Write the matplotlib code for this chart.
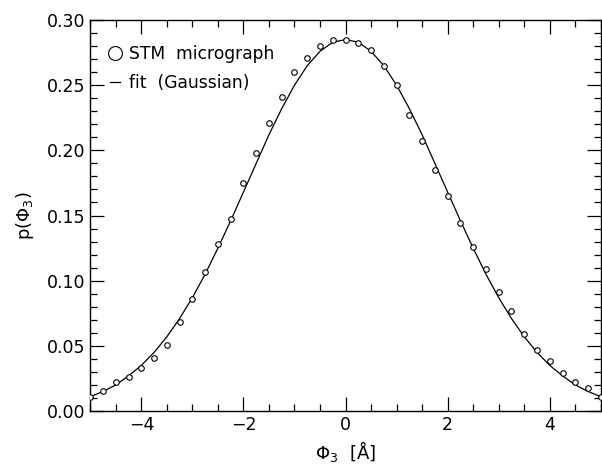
"""
Distribución p(phi_3): datos STM y ajuste gaussiano
"""

import numpy as np
import matplotlib
matplotlib.use('Agg')
import matplotlib.pyplot as plt
from matplotlib.ticker import MultipleLocator

# ─────────────────────────────────────────────
# DATOS
# ─────────────────────────────────────────────
phi_stm = [-5.0, -4.75, -4.5, -4.25, -4.0, -3.75, -3.5, -3.25, -3.0, -2.75,
           -2.5, -2.25, -2.0, -1.75, -1.5, -1.25, -1.0, -0.75, -0.5, -0.25,
           0.0, 0.25, 0.5, 0.75, 1.0, 1.25, 1.5, 1.75, 2.0, 2.25,
           2.5, 2.75, 3.0, 3.25, 3.5, 3.75, 4.0, 4.25, 4.5, 4.75, 5.0]
p_stm = [0.011, 0.015, 0.022, 0.026, 0.033, 0.041, 0.051, 0.068, 0.086, 0.107,
         0.128, 0.147, 0.175, 0.198, 0.221, 0.241, 0.260, 0.271, 0.280, 0.285,
         0.285, 0.282, 0.277, 0.265, 0.250, 0.227, 0.207, 0.185, 0.165, 0.144,
         0.126, 0.109, 0.091, 0.077, 0.059, 0.047, 0.038, 0.029, 0.022, 0.018, 0.011]

phi_fit = phi_stm
p_fit = [0.011, 0.015, 0.020, 0.027, 0.035, 0.045, 0.057, 0.071, 0.087, 0.105,
         0.125, 0.146, 0.168, 0.190, 0.212, 0.232, 0.250, 0.265, 0.276, 0.283,
         0.285, 0.283, 0.276, 0.265, 0.250, 0.232, 0.212, 0.190, 0.168, 0.146,
         0.125, 0.105, 0.087, 0.071, 0.057, 0.045, 0.035, 0.027, 0.020, 0.015, 0.011]

x_ticks = [-4, -2, 0, 2, 4]
y_ticks = [0.00, 0.05, 0.10, 0.15, 0.20, 0.25, 0.30]

plt.rcParams['font.family'] = ['DejaVu Sans']
plt.rcParams['mathtext.fontset'] = 'dejavusans'

fig = plt.figure(figsize=(6.02, 4.66), dpi=100)
ax = fig.add_axes([0.150, 0.118, 0.848, 0.839])

ax.plot(phi_fit, p_fit, '-', color='black', lw=0.9, label='fit  (Gaussian)', clip_on=True)
ax.plot(phi_stm, p_stm, 'o', mfc='white', mec='black', ms=4, mew=0.8,
        label='STM  micrograph', clip_on=True, zorder=3)

ax.set_xlim(-5, 5)
ax.set_ylim(0, 0.30)
ax.set_xticks(x_ticks)
ax.set_xticklabels(['\u22124', '\u22122', '0', '2', '4'])
ax.set_yticks(y_ticks)
ax.set_yticklabels([f'{v:.2f}' for v in y_ticks])
ax.xaxis.set_minor_locator(MultipleLocator(0.5))
ax.yaxis.set_minor_locator(MultipleLocator(0.01))
ax.tick_params(which='both', direction='in', top=True, right=True, width=0.9,
               labelsize=12.5)
ax.tick_params(which='major', length=10)
ax.tick_params(which='minor', length=5)
for s in ax.spines.values():
    s.set_linewidth(1.0)

ax.set_xlabel(r'$\Phi_3$  [Å]', fontsize=13, labelpad=4)
ax.set_ylabel(r'p($\Phi_3$)', fontsize=13, labelpad=8)

h, l = ax.get_legend_handles_labels()
leg = ax.legend(h[::-1], l[::-1], loc='upper left', bbox_to_anchor=(0.002, 0.985),
                frameon=False, fontsize=12.3,
                handlelength=0.6, handletextpad=0.5, markerscale=2.5,
                borderaxespad=0.6, borderpad=0.5, labelspacing=0.65)

plt.savefig('out.png', dpi=100)
